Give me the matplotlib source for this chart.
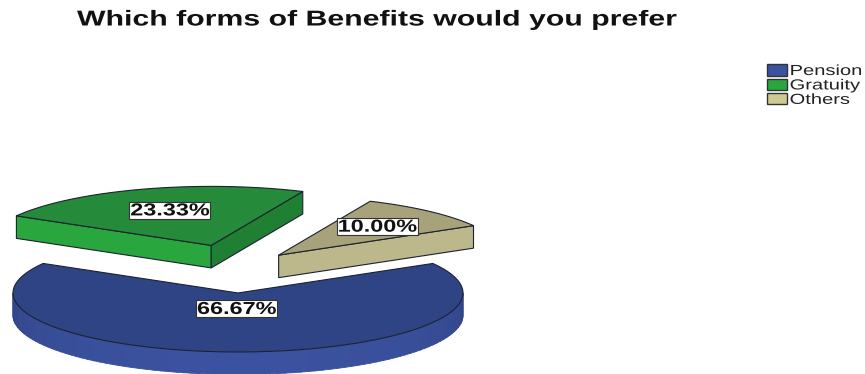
import numpy as np
import matplotlib
matplotlib.use("Agg")
import matplotlib.pyplot as plt
from matplotlib.patches import Patch, Polygon, Rectangle
from matplotlib.patheffects import AbstractPathEffect
from matplotlib.transforms import Affine2D

title = "Which forms of Benefits would you prefer"
categories = ["Pension", "Gratuity", "Others"]
shares = [66.67, 23.33, 10.00]

# Slices run clockwise from the start angle, each pulled out along its bisector.
START_ANGLE = 30.0
CX, CY, RX, RY, DEPTH = 238.0, 267.0, 225.0, 59.0, 22.5
explode = {"Pension": 0.44, "Gratuity": 0.385, "Others": 0.27}
top_colors = {"Pension": "#2f4485", "Gratuity": "#258a3a", "Others": "#a8a27a"}
cut_colors = {"Gratuity": ("#2aa63f", "#1f8033"), "Others": ("#bdb78c", "#a8a27a")}
swatch_colors = {"Pension": "#3b52a0", "Gratuity": "#2aa63f", "Others": "#cfc992"}
EDGE = "#1c2230"
label_offset = {"Pension": (-1, 16), "Gratuity": (-41, -35), "Others": (99, -28.5)}
FONT = "Liberation Sans"


class WidenGlyphs(AbstractPathEffect):
    """Stretch text horizontally about its origin."""

    def __init__(self, factor):
        super().__init__()
        self.factor = factor

    def draw_path(self, renderer, gc, tpath, affine, rgbFace=None):
        widened = Affine2D().scale(self.factor, 1.0) + affine
        renderer.draw_path(gc, tpath, widened, rgbFace)


fig = plt.figure(figsize=(8.65, 3.74), dpi=100)
ax = fig.add_axes([0, 0, 1, 1])
ax.set_xlim(0, 865)
ax.set_ylim(374, 0)
ax.axis("off")


def rim(x0, y0, a0, a1, n=120):
    t = np.radians(np.linspace(a0, a1, n))
    return np.column_stack([x0 + RX * np.cos(t), y0 - RY * np.sin(t)])


def side_quad(p, q, color, z):
    pts = [p, q, (q[0], q[1] + DEPTH), (p[0], p[1] + DEPTH)]
    ax.add_patch(Polygon(pts, closed=True, fc=color, ec=EDGE, lw=0.8, zorder=z))


angle = START_ANGLE
for name, share in zip(categories, shares):
    sweep = share / 100 * 360
    a_hi, a_lo = angle, angle - sweep
    mid = np.radians((a_hi + a_lo) / 2)
    x0 = CX + explode[name] * RX * np.cos(mid)
    y0 = CY - explode[name] * RY * np.sin(mid)
    apex = np.array([x0, y0])
    z = 3 if name == "Pension" else 2

    if name == "Pension":
        # Curved outer wall: lighter toward the front, darker at the ends.
        dark = np.array(matplotlib.colors.to_rgb("#2f4385"))
        light = np.array(matplotlib.colors.to_rgb("#3b52a0"))
        for a in np.arange(180, 360, 2.0):
            r = rim(x0, y0, a, a + 2.2, 4)
            pts = np.vstack([r, (r + [0, DEPTH])[::-1]])
            mix = np.clip(-np.sin(np.radians(a + 1)), 0, 1) ** 0.7
            shade = dark + (light - dark) * mix
            ax.add_patch(Polygon(pts, closed=True, fc=shade, ec=shade, lw=0.6, zorder=z))
    else:
        front, right = cut_colors[name]
        end_lo = rim(x0, y0, a_lo, a_lo, 1)[0]
        end_hi = rim(x0, y0, a_hi, a_hi, 1)[0]
        if name == "Gratuity":
            side_quad(apex, end_hi, front, z)
            side_quad(apex, end_lo, right, z)
        else:
            side_quad(apex, end_lo, front, z)

    outline = np.vstack([apex, rim(x0, y0, a_lo, a_hi)])
    ax.add_patch(Polygon(outline, closed=True, fc=top_colors[name], ec=EDGE,
                         lw=0.8, zorder=z + 0.5, joinstyle="round"))

    dx, dy = label_offset[name]
    lx, ly = x0 + dx, y0 + dy
    ax.add_patch(Rectangle((lx - 41, ly - 8.5), 81, 17, fc="white", ec="#333333",
                           lw=0.8, zorder=5))
    ax.text(lx - 40, ly + 0.5, f"{share:.2f}%", ha="left", va="center", family=FONT,
            fontsize=12.5, fontweight="bold", color="#111111", zorder=6,
            path_effects=[WidenGlyphs(1.35)])
    angle = a_lo

ax.text(77, 20, title, ha="left", va="center", family=FONT, fontsize=15.5,
        fontweight="bold", color="#111111", path_effects=[WidenGlyphs(1.405)])

handles = [Patch(fc=swatch_colors[c], ec="#333333", lw=1.0) for c in categories]
legend = ax.legend(handles, categories, loc="upper left", bbox_to_anchor=(767, 64),
                   bbox_transform=ax.transData, frameon=False, borderpad=0,
                   borderaxespad=0, prop={"family": FONT, "size": 10.5},
                   handlelength=1.4, handleheight=0.8, handletextpad=0.15,
                   labelspacing=0.03, labelcolor="#222222")
for label in legend.get_texts():
    label.set_path_effects([WidenGlyphs(1.38)])

fig.savefig("out.png", dpi=100, facecolor="white")
